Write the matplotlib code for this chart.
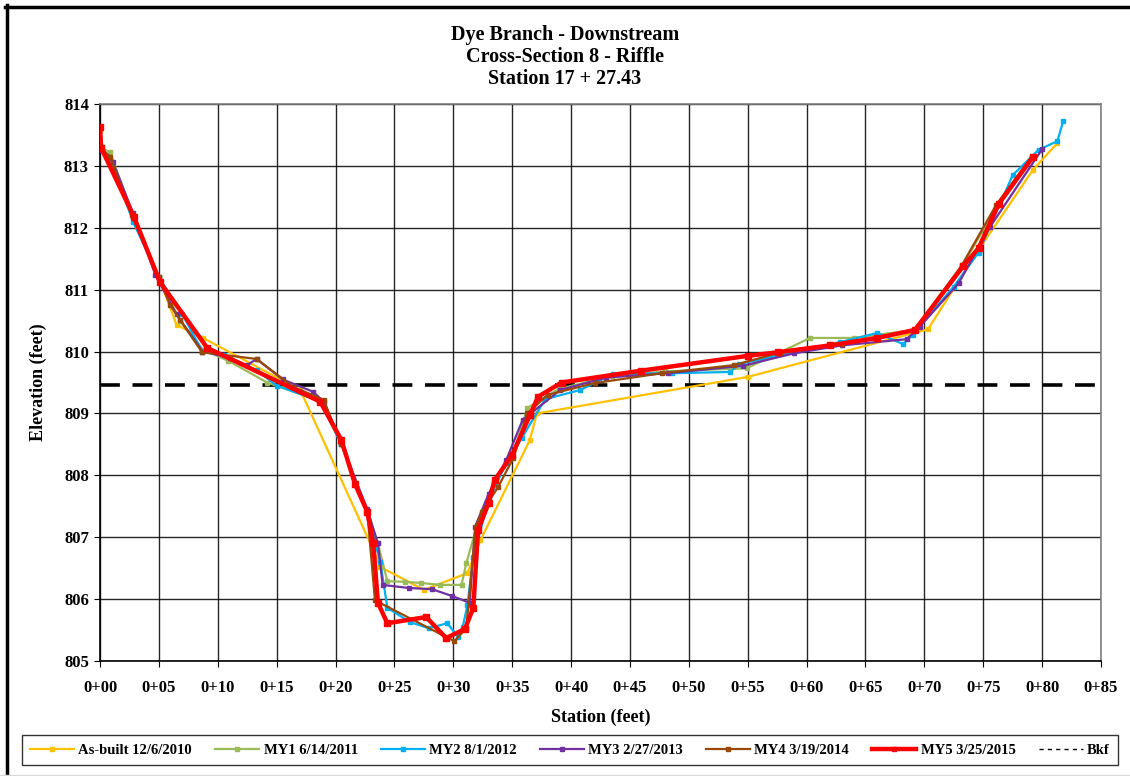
import matplotlib
matplotlib.use("Agg")
import matplotlib.pyplot as plt
from matplotlib.lines import Line2D

plt.rcParams['font.family'] = ['Liberation Serif', 'DejaVu Serif']

# ---- Data ----
asbuilt_x = [0.0, 0.2, 2.8, 5.0, 6.5, 8.75, 17.0, 23.2, 23.8, 27.5, 31.2, 32.3, 36.5, 37.1, 55.0, 70.3, 74.6, 79.2, 81.3]
asbuilt_y = [813.58, 813.3, 812.2, 811.2, 810.43, 810.22, 809.38, 806.8, 806.52, 806.15, 806.42, 806.95, 808.57, 809.0, 809.59, 810.36, 811.64, 812.93, 813.37]

my1_x = [0.0, 0.85, 2.8, 5.0, 6.8, 8.75, 10.9, 14.2, 18.7, 20.5, 22.7, 23.6, 24.4, 25.9, 27.3, 28.9, 30.7, 31.1, 32.0, 33.5, 35.0, 36.3, 39.0, 43.5, 48.0, 54.9, 60.3, 64.0, 69.2, 73.2, 76.2, 79.1]
my1_y = [813.3, 813.22, 812.2, 811.2, 810.5, 810.03, 809.85, 809.5, 809.2, 808.5, 807.4, 806.9, 806.29, 806.28, 806.26, 806.23, 806.23, 806.58, 807.17, 807.9, 808.3, 809.09, 809.4, 809.6, 809.68, 809.73, 810.22, 810.22, 810.35, 811.38, 812.35, 813.15]

my2_x = [0.0, 0.8, 2.8, 5.0, 7.0, 8.7, 10.5, 13.3, 15.0, 18.7, 20.5, 22.7, 23.3, 23.8, 24.4, 26.3, 27.9, 29.5, 30.4, 30.8, 31.2, 31.7, 33.0, 34.5, 35.8, 37.8, 40.8, 43.6, 48.6, 53.5, 54.3, 62.8, 66.0, 68.2, 69.0, 72.5, 74.6, 77.5, 79.7, 81.3, 81.8]
my2_y = [813.3, 813.15, 812.1, 811.2, 810.6, 810.0, 809.95, 809.7, 809.45, 809.2, 808.5, 807.4, 806.95, 806.6, 805.86, 805.63, 805.53, 805.61, 805.39, 805.55, 805.9, 806.68, 807.6, 808.2, 808.6, 809.23, 809.38, 809.64, 809.65, 809.67, 809.8, 810.15, 810.3, 810.12, 810.27, 811.05, 811.6, 812.85, 813.26, 813.4, 813.73]

my3_x = [0.0, 1.1, 2.8, 4.7, 6.5, 8.7, 11.0, 12.5, 13.3, 15.5, 18.1, 19.0, 20.5, 22.7, 23.6, 24.0, 26.2, 28.2, 29.9, 31.4, 31.85, 33.0, 34.5, 35.9, 39.1, 43.0, 48.2, 54.6, 58.9, 63.0, 68.5, 69.6, 72.9, 75.6, 80.0]
my3_y = [813.25, 813.06, 812.24, 811.24, 810.6, 810.0, 809.9, 809.78, 809.88, 809.55, 809.35, 809.19, 808.52, 807.45, 806.9, 806.23, 806.18, 806.16, 806.05, 805.94, 807.17, 807.7, 808.25, 808.9, 809.38, 809.58, 809.65, 809.77, 809.97, 810.1, 810.2, 810.4, 811.1, 812.02, 813.27]

my4_x = [0.0, 0.85, 2.7, 5.0, 5.95, 6.8, 8.66, 13.3, 16.4, 19.0, 20.5, 22.7, 23.35, 30.1, 31.1, 31.9, 32.4, 33.8, 35.1, 36.3, 38.0, 42.0, 47.7, 53.8, 57.7, 63.0, 69.2, 73.2, 76.1, 79.1]
my4_y = [813.3, 813.15, 812.2, 811.2, 810.75, 810.51, 809.99, 809.88, 809.43, 809.22, 808.5, 807.4, 805.98, 805.32, 805.53, 807.17, 807.4, 807.81, 808.28, 809.0, 809.3, 809.49, 809.65, 809.78, 809.98, 810.12, 810.35, 811.4, 812.37, 813.15]

my5_x = [0.0, 0.1, 2.9, 5.1, 9.1, 18.7, 20.5, 21.65, 22.7, 23.2, 23.6, 24.4, 27.7, 29.4, 31.0, 31.7, 32.1, 33.0, 33.5, 35.0, 36.5, 37.2, 39.2, 45.9, 55.0, 57.6, 62.0, 66.0, 69.2, 73.3, 74.6, 76.3, 79.2]
my5_y = [813.63, 813.29, 812.17, 811.12, 810.06, 809.19, 808.57, 807.86, 807.41, 806.9, 805.94, 805.61, 805.71, 805.37, 805.52, 805.86, 807.12, 807.55, 807.92, 808.33, 808.97, 809.27, 809.5, 809.69, 809.93, 809.99, 810.1, 810.22, 810.35, 811.38, 811.67, 812.38, 813.14]

bkf_elev = 809.46

series_labels = ["As-built 12/6/2010", "MY1 6/14/2011", "MY2 8/1/2012", "MY3 2/27/2013", "MY4 3/19/2014", "MY5 3/25/2015"]
series_colors = ["#FFC000", "#9BBB59", "#00B0F0", "#7030A0", "#984807", "#FF0000"]

xticks = list(range(0, 90, 5))
xtick_labels = ["0+%02d" % v for v in xticks]
yticks = list(range(805, 815))

title_text = "Dye Branch - Downstream\nCross-Section 8 - Riffle\nStation 17 + 27.43"

# ---- Plot ----
fig = plt.figure(figsize=(11.3, 7.76), dpi=100)
ax = fig.add_axes([100/1130, 1-661/776, 1001/1130, 557/776])

data = [(asbuilt_x, asbuilt_y), (my1_x, my1_y), (my2_x, my2_y), (my3_x, my3_y), (my4_x, my4_y), (my5_x, my5_y)]
for i, ((xs, ys), lab, col) in enumerate(zip(data, series_labels, series_colors)):
    if i == 5:
        ax.plot(xs, ys, color=col, lw=3.2, marker='s', ms=4.5, label=lab, zorder=5)
    else:
        ax.plot(xs, ys, color=col, lw=1.6, marker='s', ms=3, label=lab, zorder=3 + i * 0.1)

ax.axhline(bkf_elev, color='black', lw=2.6, ls=(0, (5.5, 3.5)), label='Bkf', zorder=2)

ax.set_xlim(0, 85)
ax.set_ylim(805, 814)
ax.set_xticks(xticks)
ax.set_xticklabels(xtick_labels)
ax.set_yticks(yticks)
ax.grid(True, color='black', lw=1.0, alpha=0.85)
ax.set_axisbelow(True)
for sp in ax.spines.values():
    sp.set_color('#808080')
    sp.set_linewidth(1.2)
ax.spines['bottom'].set_color('black')
ax.spines['left'].set_color('black')
ax.tick_params(axis='both', labelsize=12, length=4, direction='out', pad=10)
for lbl in ax.get_xticklabels() + ax.get_yticklabels():
    lbl.set_fontweight('bold')
ax.tick_params(axis='y', pad=4)

ax.set_xlabel("Station (feet)", fontsize=13, fontweight='bold', labelpad=9)
ax.set_ylabel("Elevation (feet)", fontsize=13, fontweight='bold', labelpad=12)

fig.text(565/1130, 1-57/776, title_text, ha='center', va='center', fontsize=14.5,
         fontweight='bold', linespacing=1.15)

# legend with small markers
handles, labels = ax.get_legend_handles_labels()
leg_handles = []
for h in handles:
    is_bkf = h.get_label() == 'Bkf'
    leg_handles.append(Line2D([], [], color=h.get_color(),
                              lw=1.0 if is_bkf else h.get_linewidth(),
                              ls=(0, (3, 3)) if is_bkf else '-',
                              marker=None if is_bkf else 's',
                              ms=2.5))
leg = fig.legend(leg_handles, labels, loc='center', bbox_to_anchor=(570/1130, 1-750/776), ncol=7,
                 frameon=True, prop={'size': 10.5, 'weight': 'bold'}, handlelength=3.0,
                 columnspacing=1.6, handletextpad=0.3, borderpad=0.55, fancybox=False)
leg.get_frame().set_edgecolor('black')
leg.get_frame().set_linewidth(1.0)

# outer chart border (top and left visible)
fig.add_artist(Line2D([5/1130, 1], [1-6.5/776, 1-6.5/776], transform=fig.transFigure, color='black', lw=2.5))
fig.add_artist(Line2D([6.5/1130, 6.5/1130], [0, 1-5/776], transform=fig.transFigure, color='black', lw=2.5))
fig.add_artist(Line2D([0, 1], [1.5/776, 1.5/776], transform=fig.transFigure, color='#d9d9d9', lw=1))

fig.savefig("out.png", dpi=100)
